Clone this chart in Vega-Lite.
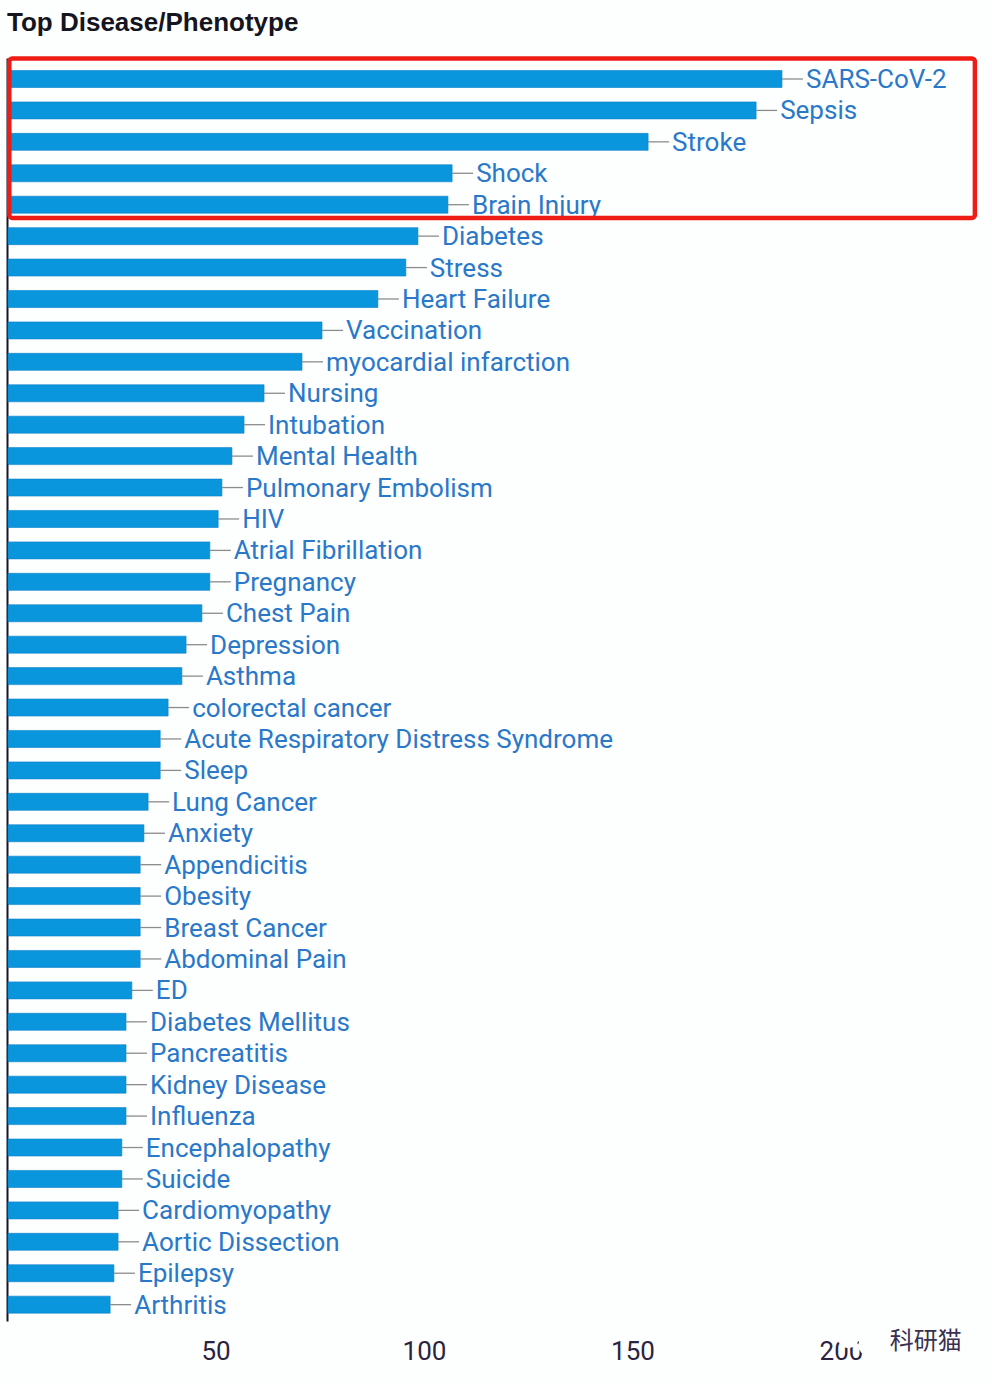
{
  "$schema": "https://vega.github.io/schema/vega-lite/v6.json",
  "autosize": {"type": "none"},
  "padding": {"left": 7, "top": 58, "right": 0, "bottom": 63},
  "width": 985,
  "height": 1263,
  "background": "#fdfefe",
  "title": {
    "text": "Top Disease/Phenotype",
    "anchor": "start",
    "frame": "group",
    "offset": 20,
    "font": "Liberation Sans",
    "fontSize": 26,
    "fontWeight": "bold",
    "color": "#15151f"
  },
  "datasets": {
    "topics": [
      {"rank": 1, "name": "SARS-CoV-2", "count": 185.6},
      {"rank": 2, "name": "Sepsis", "count": 179.4},
      {"rank": 3, "name": "Stroke", "count": 153.5},
      {"rank": 4, "name": "Shock", "count": 106.5},
      {"rank": 5, "name": "Brain Injury", "count": 105.5},
      {"rank": 6, "name": "Diabetes", "count": 98.3},
      {"rank": 7, "name": "Stress", "count": 95.4},
      {"rank": 8, "name": "Heart Failure", "count": 88.7},
      {"rank": 9, "name": "Vaccination", "count": 75.3},
      {"rank": 10, "name": "myocardial infarction", "count": 70.5},
      {"rank": 11, "name": "Nursing", "count": 61.4},
      {"rank": 12, "name": "Intubation", "count": 56.6},
      {"rank": 13, "name": "Mental Health", "count": 53.7},
      {"rank": 14, "name": "Pulmonary Embolism", "count": 51.3},
      {"rank": 15, "name": "HIV", "count": 50.4},
      {"rank": 16, "name": "Atrial Fibrillation", "count": 48.4},
      {"rank": 17, "name": "Pregnancy", "count": 48.4},
      {"rank": 18, "name": "Chest Pain", "count": 46.5},
      {"rank": 19, "name": "Depression", "count": 42.7},
      {"rank": 20, "name": "Asthma", "count": 41.7},
      {"rank": 21, "name": "colorectal cancer", "count": 38.4},
      {"rank": 22, "name": "Acute Respiratory Distress Syndrome", "count": 36.5},
      {"rank": 23, "name": "Sleep", "count": 36.5},
      {"rank": 24, "name": "Lung Cancer", "count": 33.6},
      {"rank": 25, "name": "Anxiety", "count": 32.6},
      {"rank": 26, "name": "Appendicitis", "count": 31.7},
      {"rank": 27, "name": "Obesity", "count": 31.7},
      {"rank": 28, "name": "Breast Cancer", "count": 31.7},
      {"rank": 29, "name": "Abdominal Pain", "count": 31.7},
      {"rank": 30, "name": "ED", "count": 29.7},
      {"rank": 31, "name": "Diabetes Mellitus", "count": 28.3},
      {"rank": 32, "name": "Pancreatitis", "count": 28.3},
      {"rank": 33, "name": "Kidney Disease", "count": 28.3},
      {"rank": 34, "name": "Influenza", "count": 28.3},
      {"rank": 35, "name": "Encephalopathy", "count": 27.3},
      {"rank": 36, "name": "Suicide", "count": 27.3},
      {"rank": 37, "name": "Cardiomyopathy", "count": 26.4},
      {"rank": 38, "name": "Aortic Dissection", "count": 26.4},
      {"rank": 39, "name": "Epilepsy", "count": 25.4},
      {"rank": 40, "name": "Arthritis", "count": 24.5}
    ]
  },
  "encoding": {
    "x": {
      "field": "count",
      "type": "quantitative",
      "scale": {"domain": [0, 236.2], "nice": false},
      "axis": {
        "values": [50, 100, 150, 200],
        "title": null,
        "grid": false,
        "ticks": false,
        "domain": false,
        "labelFont": "Roboto",
        "labelFontSize": 26,
        "labelColor": "#2b2340",
        "labelPadding": 17
      }
    },
    "y": {
      "field": "rank",
      "type": "quantitative",
      "scale": {"domain": [0.332, 40.52], "reverse": true, "nice": false, "zero": false, "padding": 0},
      "axis": {
        "values": [],
        "title": null,
        "grid": false,
        "ticks": false,
        "labels": false,
        "domainColor": "#16162a",
        "domainWidth": 2
      }
    }
  },
  "layer": [
    {
      "data": {"name": "topics"},
      "mark": {"type": "bar", "orient": "horizontal", "size": 17, "xOffset": 1, "color": "#0a96dc", "stroke": "#0b7fcb", "strokeWidth": 0.6}
    },
    {
      "data": {"name": "topics"},
      "mark": {"type": "rule", "color": "#8c8c8c", "strokeWidth": 1.3, "xOffset": 1, "x2Offset": 22},
      "encoding": {"x2": {"field": "count"}}
    },
    {
      "data": {"name": "topics"},
      "mark": {"type": "text", "align": "left", "baseline": "middle", "dx": 25, "dy": 1, "font": "Roboto", "fontSize": 26, "color": "#2a78c8"},
      "encoding": {"text": {"field": "name", "type": "nominal"}}
    },
    {
      "data": {"values": [{"x0": 0.55, "x1": 232.1, "y0": 0.348, "y1": 5.42}]},
      "mark": {"type": "rect", "fillOpacity": 0, "stroke": "#ee1c14", "strokeWidth": 4.5, "cornerRadius": 3},
      "encoding": {
        "x": {"field": "x0", "type": "quantitative", "scale": {"domain": [0, 236.2], "nice": false}},
        "x2": {"field": "x1"},
        "y": {"field": "y0", "type": "quantitative", "scale": {"domain": [0.332, 40.52], "reverse": true, "nice": false, "zero": false, "padding": 0}},
        "y2": {"field": "y1"}
      }
    },
    {
      "data": {"values": [{"cx": 201.7, "cy": 41.03, "area": 480}, {"cx": 206.5, "cy": 41.29, "area": 400}]},
      "mark": {"type": "circle", "color": "#fdfefe", "opacity": 1, "clip": false},
      "encoding": {
        "x": {"field": "cx", "type": "quantitative", "scale": {"domain": [0, 236.2], "nice": false}},
        "y": {"field": "cy", "type": "quantitative", "scale": {"domain": [0.332, 40.52], "reverse": true, "nice": false, "zero": false, "padding": 0}},
        "size": {"field": "area", "type": "quantitative", "scale": null, "legend": null}
      }
    },
    {
      "data": {"values": [{"wx": 211.7, "wy": 41.2, "mark_text": "科研猫"}]},
      "mark": {"type": "text", "align": "left", "baseline": "middle", "font": "Noto Sans CJK SC", "fontSize": 24, "color": "#3a3050"},
      "encoding": {
        "x": {"field": "wx", "type": "quantitative", "scale": {"domain": [0, 236.2], "nice": false}},
        "y": {"field": "wy", "type": "quantitative", "scale": {"domain": [0.332, 40.52], "reverse": true, "nice": false, "zero": false, "padding": 0}},
        "text": {"field": "mark_text", "type": "nominal"}
      }
    }
  ],
  "config": {"view": {"stroke": null}}
}
